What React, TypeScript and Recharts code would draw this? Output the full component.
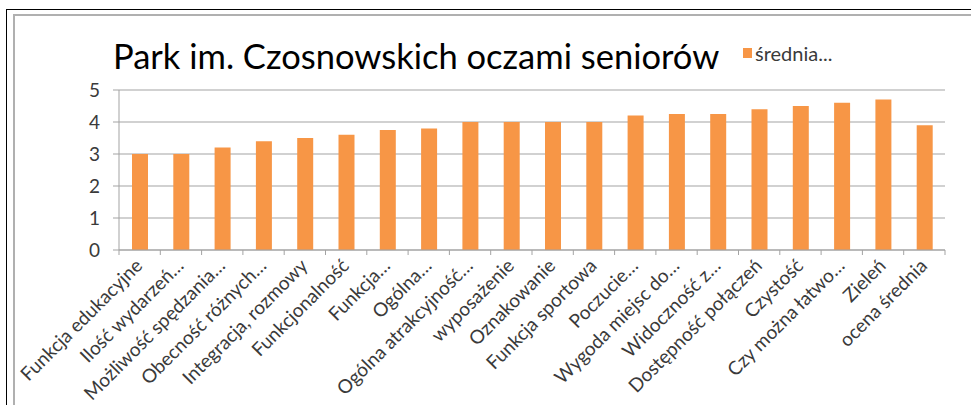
import React from 'react';
import { BarChart, Bar, XAxis, YAxis, CartesianGrid, Legend } from 'recharts';

const title = 'Park im. Czosnowskich oczami seniorów';
const seriesName = 'średnia...';
const categories = [
  'Funkcja edukacyjne',
  'Ilość wydarzeń…',
  'Możliwość spędzania…',
  'Obecność różnych…',
  'Integracja, rozmowy',
  'Funkcjonalność',
  'Funkcja…',
  'Ogólna…',
  'Ogólna atrakcyjność…',
  'wyposażenie',
  'Oznakowanie',
  'Funkcja sportowa',
  'Poczucie…',
  'Wygoda miejsc do…',
  'Widoczność z…',
  'Dostępność połączeń',
  'Czystość',
  'Czy można łatwo…',
  'Zieleń',
  'ocena średnia',
];
const values = [3.0, 3.0, 3.2, 3.4, 3.5, 3.6, 3.75, 3.8, 4.0, 4.0, 4.0, 4.0, 4.2, 4.25, 4.25, 4.4, 4.5, 4.6, 4.7, 3.9];
const yTicks = [0, 1, 2, 3, 4, 5];

const data = categories.map((c, i) => ({ name: c, value: values[i] }));

const FONT = 'Lato, "Open Sans", sans-serif';
const BAR = '#F79646';
const GRID = '#a3a3a3';
const TEXT = '#3a3a3a';

function XTick(props: any) {
  const { x, y, payload, index, visibleTicksCount } = props;
  const off = payload && payload.offset ? payload.offset : 0;
  const ax = x + 4;
  const ay = y + 17;
  return (
    <g>
      <line x1={x - off} x2={x - off} y1={y} y2={y + 5} stroke={GRID} strokeWidth={1} />
      {index === visibleTicksCount - 1 ? (
        <line x1={x + off} x2={x + off} y1={y} y2={y + 5} stroke={GRID} strokeWidth={1} />
      ) : null}
      <text
        x={ax}
        y={ay}
        textAnchor="end"
        transform={`rotate(-45 ${ax} ${ay})`}
        fontFamily={FONT}
        fontSize={19}
        fill={TEXT}
      >
        {payload.value}
      </text>
    </g>
  );
}

function LegendContent() {
  return (
    <div style={{ display: 'flex', alignItems: 'center', fontFamily: FONT, fontSize: 20, color: TEXT, whiteSpace: 'nowrap' }}>
      <span style={{ display: 'inline-block', width: 9, height: 10, background: BAR, marginRight: 3 }} />
      <span>{seriesName}</span>
    </div>
  );
}

export default function App() {
  return (
    <div style={{ position: 'absolute', left: 0, top: 0, width: 971, height: 405, overflow: 'hidden', background: '#fff' }}>
      <div style={{ position: 'absolute', left: 6, top: 9, width: 1200, height: 600, borderLeft: '1px solid #000', borderTop: '1px solid #000' }} />
      <div style={{ position: 'absolute', left: 13, top: 14, width: 1200, height: 600, borderLeft: '2px solid #b0b0b0', borderTop: '2px solid #b0b0b0' }} />
      <div style={{ position: 'absolute', left: 0, top: 0 }}>
        <BarChart
          width={971}
          height={405}
          data={data}
          margin={{ top: 90, right: 26, bottom: 0, left: 0 }}
          barSize={16}
        >
          <CartesianGrid vertical={false} stroke={GRID} strokeWidth={1} />
          <XAxis
            dataKey="name"
            height={155}
            interval={0}
            tickSize={0}
            tickMargin={0}
            tickLine={false}
            axisLine={{ stroke: GRID }}
            tick={<XTick />}
          />
          <YAxis
            width={119}
            domain={[0, 5]}
            ticks={yTicks}
            interval={0}
            tickSize={6}
            tickMargin={13}
            tickLine={{ stroke: GRID }}
            axisLine={{ stroke: GRID }}
            tick={{ fontFamily: FONT, fontSize: 19, fill: TEXT }}
          />
          <Legend
            layout="vertical"
            align="center"
            verticalAlign="middle"
            wrapperStyle={{ top: 41, left: 743, width: 'auto' }}
            content={<LegendContent />}
          />
          <Bar dataKey="value" name={seriesName} fill={BAR} isAnimationActive={false} />
        </BarChart>
      </div>
      <svg width={971} height={405} style={{ position: 'absolute', left: 0, top: 0, pointerEvents: 'none' }}>
        <text x={113} y={69} fontFamily={FONT} fontSize={34.5} fill="#000">
          {title}
        </text>
      </svg>
    </div>
  );
}
